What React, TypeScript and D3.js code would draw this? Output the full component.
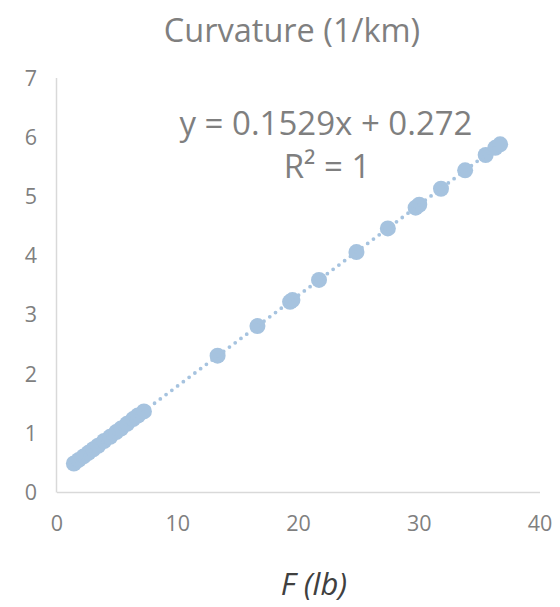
import React from "react";
import * as d3 from "d3";

const forceLb = [1.4, 1.8, 2.2, 2.6, 3.0, 3.4, 3.9, 4.4, 4.9, 5.3, 5.8, 6.3, 6.7, 7.2, 13.3, 16.6, 19.3, 19.5, 21.7, 24.8, 27.4, 29.7, 30.0, 31.8, 33.8, 35.5, 36.3, 36.7];
const curvature = [0.49, 0.55, 0.61, 0.67, 0.73, 0.79, 0.87, 0.94, 1.02, 1.08, 1.16, 1.24, 1.3, 1.37, 2.31, 2.81, 3.22, 3.25, 3.59, 4.06, 4.46, 4.81, 4.86, 5.13, 5.44, 5.7, 5.82, 5.88];
const xTicks = [0, 10, 20, 30, 40];
const yTicks = [0, 1, 2, 3, 4, 5, 6, 7];
const trendSlope = 0.1529;
const trendIntercept = 0.272;
const titleText = "Curvature (1/km)";
const xAxisTitle = "F (lb)";
const equationText = "y = 0.1529x + 0.272";
const r2Text = "R² = 1";

const W = 560;
const H = 607;
const FONT = "'Open Sans', 'Noto Sans', sans-serif";
const MARK = "#a6c3df";
const AXIS = "#d9d9d9";
const TEXT = "#7f7f7f";

export default function App() {
  const x = d3.scaleLinear().domain([0, 40]).range([57, 540]);
  const y = d3.scaleLinear().domain([0, 7]).range([492.5, 78]);
  const data = forceLb.map((f, i) => ({ f, c: curvature[i] }));
  const xMin = d3.min(forceLb) as number;
  const xMax = d3.max(forceLb) as number;
  const trend = [xMin, xMax].map((v) => [v, trendSlope * v + trendIntercept]);
  const line = d3
    .line<number[]>()
    .x((d) => x(d[0]))
    .y((d) => y(d[1]));

  return (
    <svg
      width={W}
      height={H}
      style={{ position: "absolute", left: 0, top: 0, background: "#fff" }}
      fontFamily={FONT}
    >
      <text x={292} y={42} textAnchor="middle" fontSize={32.5} fill={TEXT}>
        {titleText}
      </text>
      {/* axes */}
      <line x1={x(0)} x2={x(40)} y1={y(0)} y2={y(0)} stroke={AXIS} strokeWidth={1.5} />
      <line x1={x(0) - 0.5} x2={x(0) - 0.5} y1={y(7)} y2={y(0)} stroke={AXIS} strokeWidth={1.5} />
      {xTicks.map((t) => (
        <text key={"x" + t} x={x(t)} y={531} textAnchor="middle" fontSize={21.5} fill={TEXT}>
          {t}
        </text>
      ))}
      {yTicks.map((t) => (
        <text key={"y" + t} x={37} y={y(t) + 7.5} textAnchor="end" fontSize={21.5} fill={TEXT}>
          {t}
        </text>
      ))}
      {/* markers */}
      {data.map((d, i) => (
        <circle key={i} cx={x(d.f)} cy={y(d.c)} r={8} fill={MARK} />
      ))}
      {/* trendline */}
      <path
        d={line(trend) || ""}
        fill="none"
        stroke={MARK}
        strokeWidth={3.8}
        strokeLinecap="round"
        strokeDasharray="0 7.2"
      />
      <text x={326} y={135} textAnchor="middle" fontSize={33} fill={TEXT}>
        {equationText}
      </text>
      <text x={327} y={178} textAnchor="middle" fontSize={33} fill={TEXT}>
        {r2Text}
      </text>
      <text x={314} y={595} textAnchor="middle" fontSize={31} fontStyle="italic" fill="#404040">
        {xAxisTitle}
      </text>
    </svg>
  );
}
